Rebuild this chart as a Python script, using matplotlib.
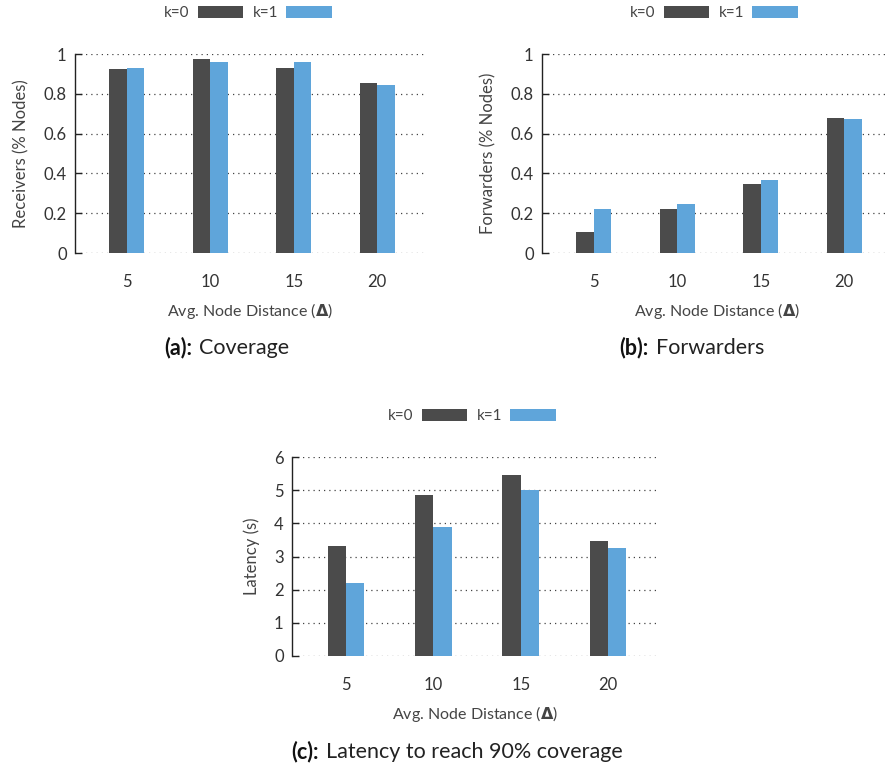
import matplotlib
matplotlib.use("Agg")
import matplotlib.pyplot as plt
from matplotlib.patches import Patch
import numpy as np

plt.rcParams['font.family'] = ['Lato', 'DejaVu Sans']
plt.rcParams['mathtext.fontset'] = 'custom'
plt.rcParams['mathtext.rm'] = 'DejaVu Sans'
plt.rcParams['mathtext.bf'] = 'DejaVu Sans:bold'

categories = ["5", "10", "15", "20"]
series_names = ["k=0", "k=1"]

coverage_k0 = [0.926, 0.975, 0.931, 0.854]
coverage_k1 = [0.929, 0.961, 0.958, 0.844]

forwarders_k0 = [0.106, 0.220, 0.348, 0.677]
forwarders_k1 = [0.220, 0.245, 0.366, 0.672]

latency_k0 = [3.32, 4.85, 5.45, 3.47]
latency_k1 = [2.20, 3.90, 5.02, 3.26]

C_DARK = "#4b4b4b"
C_BLUE = "#5fa5da"
TXT = "#333333"

W, H = 885, 767
fig = plt.figure(figsize=(W / 100, H / 100), dpi=100)


def px_axes(left, top, right, bottom):
    return fig.add_axes([left / W, 1 - bottom / H, (right - left) / W, (bottom - top) / H])


def draw(ax, v0, v1, yticks, yticklabels, ylabel):
    x = np.arange(len(categories))
    w = 0.21
    ax.bar(x - w / 2, v0, w, color=C_DARK, zorder=3)
    ax.bar(x + w / 2, v1, w, color=C_BLUE, zorder=3)
    ax.set_xlim(-0.62, 3.56)
    ax.set_ylim(yticks[0], yticks[-1])
    ax.set_yticks(yticks)
    ax.set_yticklabels(yticklabels)
    ax.set_xticks(x)
    ax.set_xticklabels(categories)
    for s in ["top", "right", "bottom"]:
        ax.spines[s].set_visible(False)
    ax.spines["left"].set_color("#222222")
    ax.spines["left"].set_linewidth(1.0)
    ax.tick_params(axis="y", direction="in", length=5, width=1.0, color="#222222",
                   labelsize=12, labelcolor=TXT, pad=6)
    ax.tick_params(axis="x", length=0, labelsize=12, labelcolor=TXT, pad=15)
    ax.yaxis.grid(True, linestyle=(0, (1, 3.2)), color="#444444", linewidth=0.9)
    ax.set_axisbelow(False)
    ax.set_ylabel(ylabel, fontsize=12, color="#444444", labelpad=10)
    ax.set_xlabel(r"Avg. Node Distance ($\mathbf{\Delta}$)", fontsize=11.5, color="#444444", labelpad=8)
    handles = [Patch(facecolor=C_DARK), Patch(facecolor=C_BLUE)]
    return handles


def legend(handles, cx, cy):
    fig.legend(handles, series_names, loc="center", bbox_to_anchor=(cx / W, 1 - cy / H),
               ncol=2, frameon=False, markerfirst=False, fontsize=11,
               handlelength=3.0, handleheight=0.8, handletextpad=0.55,
               columnspacing=0.6, labelcolor="#444444")


def title(bold, normal, xsplit, y):
    fig.text((xsplit - 3) / W, 1 - y / H, bold, fontsize=15.5, fontweight="bold",
             ha="right", va="center", color="#111111")
    fig.text((xsplit + 4) / W, 1 - y / H, normal, fontsize=15.5,
             ha="left", va="center", color="#222222")


ax_a = px_axes(75, 54, 424, 253)
h = draw(ax_a, coverage_k0, coverage_k1, [0, 0.2, 0.4, 0.6, 0.8, 1.0],
         ["0", "0.2", "0.4", "0.6", "0.8", "1"], "Receivers (% Nodes)")
legend(h, 248, 13)
title("(a):", "Coverage", 195, 348)

ax_b = px_axes(542, 54, 891, 253)
h = draw(ax_b, forwarders_k0, forwarders_k1, [0, 0.2, 0.4, 0.6, 0.8, 1.0],
         ["0", "0.2", "0.4", "0.6", "0.8", "1"], "Forwarders (% Nodes)")
legend(h, 714, 13)
title("(b):", "Forwarders", 652, 348)

ax_c = px_axes(292, 457, 657, 656)
h = draw(ax_c, latency_k0, latency_k1, [0, 1, 2, 3, 4, 5, 6],
         ["0", "1", "2", "3", "4", "5", "6"], "Latency (s)")
legend(h, 472, 416)
title("(c):", "Latency to reach 90% coverage", 322, 752)

fig.savefig("out.png", dpi=100)
